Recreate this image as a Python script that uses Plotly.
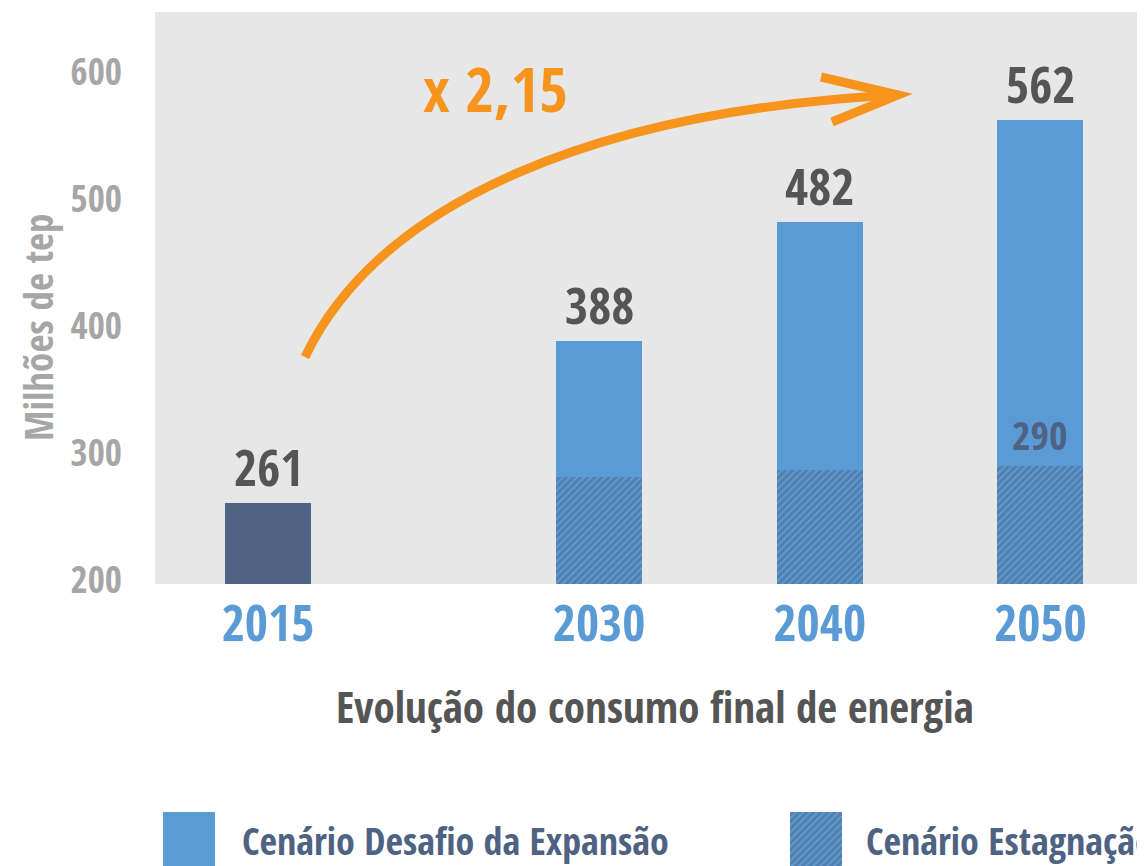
import plotly.graph_objects as go

W, H = 1145, 866
OFF = 8  # page body margin

# data
anos = [2015, 2030, 2040, 2050]
historico_ano = [2015]
historico_valor = [261]
proj_anos = [2030, 2040, 2050]
desafio_expansao = [388, 482, 562]
estagnacao = [281, 287, 290]
y_ticks = [200, 300, 400, 500, 600]

AZUL = "#5b9bd5"
MARINHO = "#4e6283"
CINZA_TXT = "#555555"
CINZA_EIXO = "#a6a6a6"
LARANJA = "#f7941d"
FONTE = ("Open Sans Condensed, Roboto Condensed, Noto Sans Condensed, "
         "Liberation Sans Narrow, DejaVu Sans Condensed, Roboto")


def px(x):
    return (x - OFF) / W


def py(y):
    return 1 - (y - OFF) / H


def fonte(size, color):
    return dict(family=FONTE, size=size, color=color, weight="bold")


def rotulo(x, y, texto, font, **kw):
    d = dict(x=px(x), y=py(y), xref="paper", yref="paper", text=texto, showarrow=False,
             xanchor="center", yanchor="middle", font=font)
    d.update(kw)
    return d


padrao = dict(shape="/", bgcolor=AZUL, fgcolor=MARINHO, size=5, solidity=0.6)

fig = go.Figure()
fig.add_bar(x=historico_ano, y=historico_valor, width=3.9, marker_color=MARINHO,
            marker_line_width=0, showlegend=False)
fig.add_bar(x=proj_anos, y=desafio_expansao, width=3.9, marker_color=AZUL,
            marker_line_width=0, name="Cenário Desafio da Expansão", showlegend=False)
fig.add_bar(x=proj_anos, y=estagnacao, width=3.9, marker_color=AZUL,
            marker_pattern=padrao, marker_line_width=0,
            name="Cenário Estagnação", showlegend=False)

# legend swatches on their own little axes
fig.add_bar(x=[189 - OFF], y=[1], width=52, marker_color=AZUL, marker_line_width=0,
            xaxis="x2", yaxis="y2", showlegend=False, hoverinfo="skip")
fig.add_bar(x=[816 - OFF], y=[1], width=52, marker_color=AZUL, marker_pattern=padrao,
            marker_line_width=0, xaxis="x2", yaxis="y2", showlegend=False, hoverinfo="skip")

anot = []
for ano, v in zip(historico_ano + proj_anos, historico_valor + desafio_expansao):
    anot.append(dict(x=ano, y=v, xref="x", yref="y", text=str(v), showarrow=False,
                     xanchor="center", yanchor="bottom", yshift=0, font=fonte(50, CINZA_TXT)))
anot.append(dict(x=proj_anos[-1], y=estagnacao[-1], xref="x", yref="y",
                 text=str(estagnacao[-1]), showarrow=False, xanchor="center",
                 yanchor="bottom", yshift=2, font=fonte(40, MARINHO)))
anot.append(rotulo(495, 88, "x 2,15", fonte(62, LARANJA)))
anot.append(rotulo(37, 328, "Milhões de tep", fonte(39, CINZA_EIXO), textangle=-90))
anot.append(rotulo(655, 706, "Evolução do consumo final de energia", fonte(43, CINZA_TXT)))
anot.append(rotulo(240, 840, "Cenário Desafio da Expansão", fonte(38, MARINHO),
                   xanchor="left"))
anot.append(rotulo(864, 840, "Cenário Estagnação", fonte(38, MARINHO), xanchor="left"))

curva = (f"M {px(305)},{py(357)} C {px(380)},{py(200)} {px(600)},{py(110)} "
         f"{px(898)},{py(95)}")
ponta = f"M {px(821)},{py(77)} L {px(898)},{py(95)} L {px(832)},{py(122)}"

fig.update_layout(
    width=W, height=H,
    margin=dict(l=0, r=0, t=0, b=0, autoexpand=False),
    paper_bgcolor="white", plot_bgcolor="white",
    barmode="overlay", bargap=0,
    annotations=anot,
    shapes=[
        dict(type="rect", xref="x domain", yref="y domain", x0=0, x1=1, y0=0, y1=1,
             fillcolor="#e7e7e7", line_width=0, layer="below"),
        dict(type="path", xref="paper", yref="paper", path=curva,
             line=dict(color=LARANJA, width=9)),
        dict(type="path", xref="paper", yref="paper", path=ponta,
             line=dict(color=LARANJA, width=9)),
    ],
    xaxis=dict(domain=[px(155), 1], range=[2009.88, 2055.1], tickvals=anos,
               ticktext=[str(a) for a in anos], showgrid=False, zeroline=False,
               automargin=False, ticklabelstandoff=6, tickfont=fonte(50, AZUL)),
    yaxis=dict(domain=[py(584), py(12)], range=[196.9, 647.3], tickvals=y_ticks,
               showgrid=False, zeroline=False, automargin=False, ticklabelstandoff=32,
               tickfont=fonte(37, CINZA_EIXO)),
    xaxis2=dict(domain=[0, 1], range=[0, W], visible=False, anchor="y2",
                automargin=False),
    yaxis2=dict(domain=[0, py(812)], range=[0, 1], visible=False, anchor="x2",
                automargin=False),
)

fig.write_html("out.html")
